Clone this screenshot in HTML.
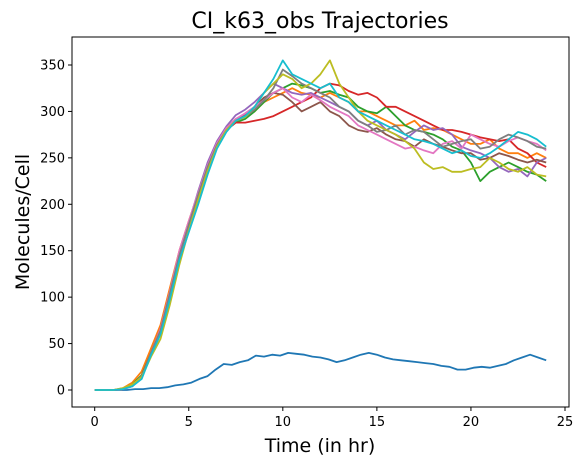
<!DOCTYPE html>
<html><head><meta charset="utf-8"><style>
body{margin:0;background:#fff;font-family:"Liberation Sans","DejaVu Sans",sans-serif}
svg text{font-family:"DejaVu Sans","Liberation Sans",sans-serif}
</style></head><body>
<svg id="chart" width="582" height="466" xmlns="http://www.w3.org/2000/svg">
<rect width="582" height="466" fill="#fff"/>
<text x="320" y="28" font-size="22" text-anchor="middle">CI_k63_obs Trajectories</text>
<g id="plot"></g>
<g id="axes"></g>
<text x="320" y="452" font-size="19" text-anchor="middle">Time (in hr)</text>
<text transform="translate(29,222) rotate(-90)" font-size="19" text-anchor="middle">Molecules/Cell</text>
</svg>
<script>
const xTicks = [0,5,10,15,20,25];
const yTicks = [0,50,100,150,200,250,300,350];
const colors = ["#1f77b4","#ff7f0e","#2ca02c","#d62728","#9467bd","#8c564b","#e377c2","#7f7f7f","#bcbd22","#17becf"];
const sBlue   = [0,0,0,0,0,1,1,2,2,3,5,6,8,12,15,22,28,27,30,32,37,36,38,37,40,39,38,36,35,33,30,32,35,38,40,38,35,33,32,31,30,29,28,26,25,22,22,24,25,24,26,28,32,35,38,35,32];
const sOrange = [0,0,0,2,8,20,45,70,110,150,182,212,242,266,282,292,295,300,310,315,320,325,320,318,315,320,315,310,300,300,295,290,285,285,290,280,282,280,275,270,265,265,270,260,255,255,250,255,250];
const sGreen  = [0,0,0,1,6,16,40,64,104,146,180,212,242,266,280,288,292,300,310,320,325,330,328,325,320,322,318,315,305,300,298,305,295,285,280,278,275,270,262,258,245,225,235,240,245,240,235,232,225];
const sRed    = [0,0,0,1,5,15,40,66,105,145,178,210,240,264,280,288,288,290,292,295,300,305,310,315,325,330,328,322,318,320,315,305,305,300,295,290,285,280,280,278,275,272,270,268,270,260,255,245,240];
const sPurple = [0,0,0,1,4,13,38,62,102,144,180,214,245,268,284,296,302,310,320,330,325,320,318,320,315,310,305,300,290,285,290,280,275,270,278,285,280,282,275,262,258,255,250,240,235,238,230,245,250];
const sBrown  = [0,0,0,1,5,15,40,65,104,145,178,210,240,264,280,290,296,305,315,320,318,310,300,305,310,300,295,285,280,278,282,275,270,268,262,270,265,262,258,255,255,248,250,255,252,248,245,248,245];
const sPink   = [0,0,0,1,4,14,40,66,106,150,182,212,242,266,282,292,298,305,312,320,325,315,310,318,312,305,300,295,285,280,275,270,265,260,262,258,255,265,268,260,275,270,265,262,268,272,268,265,258];
const sGray   = [0,0,0,1,5,15,40,64,104,145,178,210,240,264,280,290,294,302,312,325,345,338,330,325,320,315,305,300,290,285,278,280,285,275,280,278,270,262,265,268,270,260,262,270,275,272,268,262,260];
const sOlive  = [0,0,0,2,6,14,36,55,92,135,172,205,236,262,280,290,294,305,320,330,340,335,325,330,340,355,330,315,300,290,285,280,275,268,260,245,238,240,235,235,238,240,250,245,238,235,240,232,230];
const sCyan   = [0,0,0,1,4,12,38,60,98,140,170,200,232,260,278,290,295,305,320,335,355,340,335,330,325,330,315,310,300,295,290,285,280,275,270,268,265,260,255,258,252,250,255,262,270,278,275,270,262];
const seriesList = [sBlue,sOrange,sGreen,sRed,sPurple,sBrown,sPink,sGray,sOlive,sCyan];
const seriesNames = ["blue","orange","green","red","purple","brown","pink","gray","olive","cyan"];

const X0=72,X1=569,Y0=37,Y1=407;
const sx=v=>94.7+v*(565-94.7)/25;
const sy=v=>390-v*(390-65)/350;
const NS="http://www.w3.org/2000/svg";
const plot=document.getElementById('plot'), axes=document.getElementById('axes');
function mk(tag,attrs,parent){const e=document.createElementNS(NS,tag);for(const k in attrs)e.setAttribute(k,attrs[k]);parent.appendChild(e);return e;}

seriesList.forEach((s,si)=>{
  const n=s.length, dt=24/(n-1);
  const d=s.map((v,i)=>(i?'L':'M')+sx(i*dt).toFixed(1)+','+sy(v).toFixed(1)).join(' ');
  const p=mk('path',{d:d,fill:'none',stroke:colors[si],'stroke-width':1.8,'stroke-linejoin':'round'},plot);
  
  
});
const fr=mk('rect',{x:X0,y:Y0,width:X1-X0,height:Y1-Y0,fill:'none',stroke:'#000','stroke-width':1},axes);


xTicks.forEach(t=>{
  const x=sx(t);
  const l=mk('line',{x1:x,x2:x,y1:Y1,y2:Y1+4,stroke:'#000'},axes);
  
  
  const tx=mk('text',{x:x,y:Y1+19,'font-size':13,'text-anchor':'middle'},axes);
  tx.textContent=t;
  
  
});
yTicks.forEach(t=>{
  const y=sy(t);
  const l=mk('line',{x1:X0-4,x2:X0,y1:y,y2:y,stroke:'#000'},axes);
  
  
  const tx=mk('text',{x:X0-7,y:y+4.5,'font-size':13,'text-anchor':'end'},axes);
  tx.textContent=t;
  
  
});
</script>
</body></html>
